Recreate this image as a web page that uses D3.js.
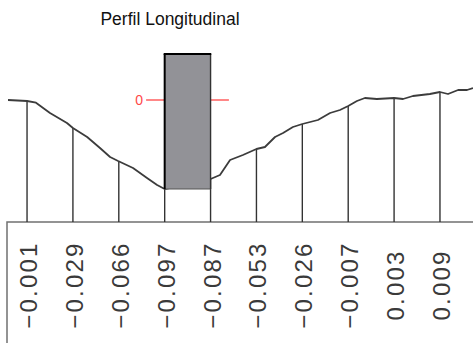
<!DOCTYPE html>
<html><head><meta charset="utf-8">
<script src="https://cdn.jsdelivr.net/npm/d3@7/dist/d3.min.js"></script>
<style>html,body{margin:0;padding:0;background:#fff;}svg{display:block;}</style>
</head><body>
<svg id="c" width="473" height="343"></svg>
<script>
// ---- data ----
const stations = [0, 20, 40, 60, 80, 100, 120, 140, 160, 180];
const stationLabels = ["\u22120.001","\u22120.029","\u22120.066","\u22120.097","\u22120.087","\u22120.053","\u22120.026","\u22120.007","0.003","0.009"];
const profileChainage = [-8.3,0,3.9,10,17.4,20,26.2,31.8,36.2,39.7,46.2,52.3,56.7,60,80,84.1,88.5,94.1,100,103.7,108.1,111.6,115.9,120,126.8,132.1,136.4,140,143.8,147.3,152.5,160,163.9,168.2,175.6,180,183.5,187.9,191.8,194.4];
const profileElev =     [122,121,119.3,109,99,94,85,74,65,61,54,44,37,33,43,47,62,67,73,75,85,89,95,98,102,109,112,116,121,124,123,124,123,126,128,130,128,132,132,134];
const barStart = 60, barEnd = 80, barBottom = 33, barTop = 168;
const refLevel = 122, refLabel = "0", refFrom = 51.9, refTo = 88;
const title = "Perfil Longitudinal";

// ---- scales ----
const svg = d3.select("#c");
const x = d3.scaleLinear().domain([-8.3, 194.4]).range([8, 473]);
const y = d3.scaleLinear().domain([0, 168]).range([222, 54]);
const elevAt = d3.scaleLinear().domain(profileChainage).range(profileElev);

// title
svg.append("text").attr("x", 170).attr("y", 25).attr("text-anchor", "middle")
  .attr("font-family", "Liberation Sans, Arial, sans-serif").attr("font-size", 17.5)
  .attr("fill", "#111").text(title);

// bottom box
svg.append("rect").attr("x", 7).attr("y", y(0)).attr("width", 480).attr("height", 140)
  .attr("fill", "none").attr("stroke", "#707070").attr("stroke-width", 1.5);

// station lines
svg.append("g").selectAll("line").data(stations).join("line")
  .attr("x1", d => x(d)).attr("x2", d => x(d))
  .attr("y1", d => y(elevAt(d))).attr("y2", y(0))
  .attr("stroke", "#333").attr("stroke-width", 1.4);

// profile
svg.append("path").datum(profileChainage.map((c, i) => [c, profileElev[i]]))
  .attr("d", d3.line().x(d => x(d[0])).y(d => y(d[1])))
  .attr("fill", "none").attr("stroke", "#3c3c3c").attr("stroke-width", 1.8)
  .attr("stroke-linejoin", "round");

// reference level
svg.append("line").attr("x1", x(refFrom)).attr("x2", x(refTo))
  .attr("y1", y(refLevel)).attr("y2", y(refLevel))
  .attr("stroke", "#ff5f5f").attr("stroke-width", 1.4);
svg.append("text").attr("x", x(refFrom) - 7).attr("y", y(refLevel)).attr("dy", "0.35em")
  .attr("text-anchor", "middle").attr("font-family", "Liberation Sans, Arial, sans-serif")
  .attr("font-size", 14).attr("fill", "#ff4848").text(refLabel);

// bar
svg.append("rect").attr("x", x(barStart)).attr("y", y(barTop))
  .attr("width", x(barEnd) - x(barStart)).attr("height", y(barBottom) - y(barTop))
  .attr("fill", "#929297");
svg.append("line").attr("x1", x(barStart)).attr("x2", x(barEnd)).attr("y1", y(barBottom)).attr("y2", y(barBottom))
  .attr("stroke", "#555").attr("stroke-width", 1.2);
svg.append("line").attr("x1", x(barEnd)).attr("x2", x(barEnd)).attr("y1", y(barTop)).attr("y2", y(barBottom))
  .attr("stroke", "#333").attr("stroke-width", 1.4);
svg.append("line").attr("x1", x(barStart)).attr("x2", x(barStart)).attr("y1", y(barTop)).attr("y2", y(barBottom))
  .attr("stroke", "#000").attr("stroke-width", 2);
svg.append("line").attr("x1", x(barStart) - 1).attr("x2", x(barEnd) + 0.7).attr("y1", y(barTop)).attr("y2", y(barTop))
  .attr("stroke", "#000").attr("stroke-width", 2);

// labels
svg.append("g").selectAll("text").data(stations).join("text")
  .attr("transform", d => `translate(${x(d) + 10},285) rotate(-90)`)
  .attr("text-anchor", "middle")
  .attr("font-family", "Liberation Sans, Arial, sans-serif").attr("font-size", 24)
  .attr("letter-spacing", 2.2)
  .attr("fill", "#3a3a3a").text((d, i) => stationLabels[i]);
</script>
</body></html>
